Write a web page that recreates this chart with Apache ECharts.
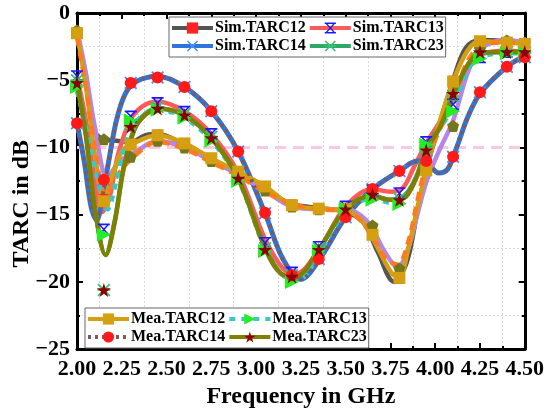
<!DOCTYPE html>
<html>
<head>
<meta charset="utf-8">
<script src="https://cdn.jsdelivr.net/npm/echarts@6/dist/echarts.min.js"></script>
<style>
  html, body { margin: 0; padding: 0; background: #fff; }
  #chart { width: 547px; height: 414px; }
</style>
</head>
<body>
<div id="chart"></div>
<script>
// Marker frequencies (GHz)
const freqPts = [2.00, 2.15, 2.30, 2.45, 2.60, 2.75, 2.90, 3.05, 3.20, 3.35, 3.50, 3.65, 3.80, 3.95, 4.10, 4.25, 4.40, 4.50];

// Marker values (dB)
const simTarc12Pts = [-1.6, -13.8, -9.8, -9.0, -9.7, -10.8, -11.8, -12.9, -14.2, -14.5, -14.7, -16.3, -19.8, -11.6, -5.0, -2.1, -2.2, -2.3];
const simTarc13Pts = [-4.7, -16.1, -7.7, -6.7, -7.35, -9.0, -11.9, -17.1, -19.3, -17.4, -14.4, -13.2, -13.4, -9.6, -6.8, -3.3, -2.9, -2.9];
const simTarc14Pts = [-8.2, -12.4, -5.2, -4.8, -5.5, -7.3, -10.3, -14.9, -19.6, -18.3, -15.2, -13.1, -11.75, -11.0, -10.7, -5.9, -4.0, -3.3];
const simTarc23Pts = [-5.0, -20.6, -8.3, -7.0, -7.5, -9.2, -12.2, -17.5, -19.5, -17.5, -14.5, -13.5, -13.8, -10.0, -6.2, -3.0, -2.9, -2.9];
const meaTarc12Pts = [-1.5, -14.0, -9.8, -9.1, -9.7, -10.8, -11.8, -12.9, -14.3, -14.55, -14.6, -16.5, -19.7, -11.7, -5.1, -2.1, -2.2, -2.3];
const meaTarc13Pts = [-5.5, -16.5, -8.0, -7.2, -7.8, -9.5, -12.5, -17.7, -20.0, -17.7, -14.6, -13.9, -14.2, -9.8, -7.3, -3.4, -3.0, -3.0];
const meaTarc14Pts = [-8.2, -12.4, -5.2, -4.8, -5.5, -7.3, -10.3, -14.85, -19.5, -18.3, -15.2, -13.1, -11.75, -11.0, -10.7, -5.9, -4.0, -3.3];
const meaTarc23Pts = [-5.2, -20.6, -8.45, -7.1, -7.6, -9.3, -12.3, -17.6, -19.6, -17.6, -14.6, -13.5, -13.9, -10.2, -6.0, -2.9, -2.9, -2.9];
const auxTarc12Pts = [-1.3, -9.4, -10.7, -9.5, -10.0, -11.0, -12.0, -13.2, -14.4, -14.6, -14.6, -15.8, -19.0, -11.6, -8.4, -2.6, -2.05, -2.2];

// Traced curves: [frequency GHz, TARC dB]
const simTarc12Curve = [[2.00,-1.3],[2.05,-5.0],[2.10,-8.8],[2.15,-9.4],[2.22,-9.5],[2.30,-9.6],[2.38,-9.1],[2.45,-9.0],[2.60,-9.8],[2.75,-10.9],[2.90,-12.0],[3.05,-13.2],[3.20,-14.2],[3.35,-14.5],[3.50,-14.8],[3.60,-15.6],[3.68,-17.8],[3.77,-20.0],[3.84,-18.6],[3.90,-14.8],[3.95,-11.7],[4.03,-8.0],[4.10,-5.0],[4.17,-2.6],[4.25,-2.0],[4.40,-2.1],[4.50,-2.3]];
const simTarc13Curve = [[2.00,-4.7],[2.05,-8.0],[2.10,-12.5],[2.14,-14.8],[2.18,-13.8],[2.23,-10.5],[2.30,-7.9],[2.37,-6.9],[2.45,-6.6],[2.60,-7.3],[2.75,-9.0],[2.90,-11.9],[3.05,-16.8],[3.15,-19.0],[3.22,-19.4],[3.35,-17.6],[3.50,-14.4],[3.65,-13.1],[3.75,-13.3],[3.82,-13.0],[3.88,-11.5],[3.95,-9.7],[4.03,-8.0],[4.10,-6.3],[4.18,-4.0],[4.25,-3.1],[4.40,-2.8],[4.50,-2.9]];
const simTarc14Curve = [[2.00,-8.2],[2.04,-11.0],[2.08,-14.5],[2.11,-15.4],[2.14,-13.8],[2.18,-10.8],[2.22,-8.0],[2.27,-6.0],[2.33,-5.1],[2.45,-4.7],[2.60,-5.5],[2.75,-7.3],[2.90,-10.3],[3.05,-14.9],[3.15,-18.3],[3.25,-19.8],[3.35,-18.4],[3.50,-15.2],[3.65,-13.1],[3.80,-11.75],[3.90,-11.0],[3.95,-11.1],[4.02,-11.9],[4.07,-11.6],[4.12,-10.0],[4.18,-7.8],[4.25,-6.0],[4.40,-4.0],[4.50,-3.2]];
const simTarc23Curve = [[2.00,-5.0],[2.05,-9.0],[2.10,-14.5],[2.16,-18.0],[2.21,-15.5],[2.26,-11.5],[2.32,-8.6],[2.38,-7.5],[2.45,-7.1],[2.60,-7.6],[2.75,-9.3],[2.90,-12.3],[3.05,-17.4],[3.14,-19.4],[3.22,-19.7],[3.35,-17.6],[3.50,-14.6],[3.65,-13.6],[3.75,-13.9],[3.82,-13.7],[3.89,-12.3],[3.95,-10.1],[4.03,-8.3],[4.10,-6.1],[4.18,-3.9],[4.25,-3.0],[4.40,-2.9],[4.50,-2.9]];
const meaTarc12Curve = [[2.00,-1.5],[2.05,-5.5],[2.10,-10.5],[2.15,-13.8],[2.20,-12.0],[2.25,-10.3],[2.30,-9.8],[2.45,-9.1],[2.60,-9.7],[2.75,-10.8],[2.90,-11.8],[3.05,-12.9],[3.20,-14.3],[3.35,-14.55],[3.50,-14.7],[3.60,-15.6],[3.68,-17.5],[3.76,-19.4],[3.80,-19.6],[3.85,-17.5],[3.90,-14.5],[3.95,-11.7],[4.02,-8.3],[4.10,-5.1],[4.18,-2.8],[4.25,-2.1],[4.40,-2.2],[4.50,-2.3]];
const meaTarc13Curve = [[2.00,-5.8],[2.05,-8.5],[2.10,-11.5],[2.17,-14.6],[2.22,-12.5],[2.28,-9.3],[2.35,-7.8],[2.45,-7.2],[2.60,-7.8],[2.75,-9.5],[2.90,-12.4],[3.05,-17.5],[3.15,-19.5],[3.24,-19.8],[3.35,-17.9],[3.50,-14.8],[3.65,-13.8],[3.75,-14.1],[3.82,-13.9],[3.89,-12.4],[3.95,-10.2],[4.03,-8.5],[4.10,-7.0],[4.18,-4.3],[4.25,-3.3],[4.40,-3.0],[4.50,-3.0]];
const meaTarc14Curve = [[2.00,-8.2],[2.04,-11.0],[2.08,-14.5],[2.11,-15.4],[2.14,-13.8],[2.18,-10.8],[2.22,-8.0],[2.27,-6.0],[2.33,-5.1],[2.45,-4.7],[2.60,-5.5],[2.75,-7.3],[2.90,-10.3],[3.05,-14.9],[3.15,-18.3],[3.25,-19.8],[3.35,-18.4],[3.50,-15.2],[3.65,-13.1],[3.80,-11.75],[3.90,-11.0],[3.95,-11.1],[4.02,-11.9],[4.07,-11.6],[4.12,-10.0],[4.18,-7.8],[4.25,-6.0],[4.40,-4.0],[4.50,-3.2]];
const meaTarc23Curve = [[2.00,-5.3],[2.05,-9.2],[2.10,-14.6],[2.16,-18.0],[2.21,-15.6],[2.26,-11.6],[2.32,-8.7],[2.38,-7.6],[2.45,-7.1],[2.60,-7.6],[2.75,-9.3],[2.90,-12.3],[3.05,-17.5],[3.14,-19.4],[3.22,-19.6],[3.35,-17.6],[3.50,-14.6],[3.65,-13.6],[3.75,-13.9],[3.82,-13.8],[3.89,-12.4],[3.95,-10.2],[4.03,-8.4],[4.10,-6.1],[4.18,-3.9],[4.25,-3.0],[4.40,-2.9],[4.50,-2.9]];
const auxTarc12CurveA = [[2.00,-1.2],[2.05,-4.5],[2.10,-8.5],[2.17,-12.2],[2.24,-11.0],[2.32,-10.4],[2.45,-9.5],[2.60,-10.0],[2.75,-11.0],[2.90,-12.0],[3.05,-13.2],[3.20,-14.4],[3.35,-14.6],[3.50,-14.6],[3.62,-15.5],[3.72,-17.8],[3.79,-18.9],[3.85,-17.5],[3.90,-15.0],[3.95,-12.6],[4.02,-10.3],[4.10,-8.0],[4.18,-4.5],[4.25,-2.7],[4.40,-2.0],[4.50,-2.2]];
const auxTarc12CurveB = [[2.00,-1.8],[2.05,-5.5],[2.10,-10.0],[2.16,-13.5],[2.22,-12.2],[2.30,-10.9],[2.45,-9.6],[2.60,-10.1],[2.75,-11.1],[2.90,-12.1],[3.05,-13.3],[3.20,-14.2],[3.35,-14.6],[3.50,-14.7],[3.62,-16.0],[3.72,-18.2],[3.79,-18.7],[3.85,-17.0],[3.90,-14.0],[3.95,-11.3],[4.02,-8.8],[4.10,-6.8],[4.18,-3.6],[4.28,-2.3],[4.40,-2.2],[4.50,-2.3]];

// -10 dB reference level
const refLevel = -10;

const serifFont = '"Liberation Serif", "Times New Roman", serif';

const starPath = 'path://M5,0 L6.18,3.6 L10,3.6 L6.9,5.9 L8.1,9.5 L5,7.3 L1.9,9.5 L3.1,5.9 L0,3.6 L3.82,3.6 Z';
const pentagonPath = 'path://M5,0 L10,3.8 L8.1,10 L1.9,10 L0,3.8 Z';
const barXPath = 'path://M0,0 L10,0 L10,1.4 L0,1.4 Z M0,8.6 L10,8.6 L10,10 L0,10 Z M1,1.4 L2.6,1.4 L5,4 L7.4,1.4 L9,1.4 L5.8,5 L9,8.6 L7.4,8.6 L5,6 L2.6,8.6 L1,8.6 L4.2,5 Z';
const asteriskPath = 'path://M0,4.3 L10,4.3 L10,5.7 L0,5.7 Z M1,0 L5,4 L9,0 L10,1 L6,5 L10,9 L9,10 L5,6 L1,10 L0,9 L4,5 L0,1 Z';
const crossPath = 'path://M1,0 L5,4 L9,0 L10,1 L6,5 L10,9 L9,10 L5,6 L1,10 L0,9 L4,5 L0,1 Z';

const zip = (xs, ys) => xs.map((x, i) => [x, ys[i]]);

function curve(name, data, color, width, type, symbol, markColor, extra) {
  return Object.assign({
    name: name,
    type: 'line',
    data: data,
    smooth: 0.35,
    showSymbol: false,
    symbol: symbol || 'none',
    symbolSize: 11,
    lineStyle: { color: color, width: width, type: type || 'solid' },
    itemStyle: { color: markColor || color },
    emphasis: { disabled: true },
    z: 2
  }, extra || {});
}

function marks(name, ys, symbol, size, color, extra) {
  return Object.assign({
    name: name,
    type: 'scatter',
    data: zip(freqPts, ys),
    symbol: symbol,
    symbolSize: size,
    itemStyle: { color: color, opacity: 1 },
    clip: false,
    emphasis: { disabled: true },
    z: 3
  }, extra || {});
}

const axisLineStyle = { color: '#000', width: 3 };
const tickStyle = { color: '#000', width: 2 };
const labelStyle = { fontFamily: serifFont, fontWeight: 'bold', fontSize: 22, color: '#000' };
const minus = v => (v < 0 ? '\u2212' + Math.abs(v) : String(v));

const legendCommon = {
  orient: 'horizontal',
  itemWidth: 41,
  itemHeight: 14,
  itemGap: 2,
  borderColor: '#666',
  borderWidth: 1,
  backgroundColor: '#fff',
  borderRadius: 0,
  padding: [3, 2, 3, 1],
  selectedMode: false,
  lineStyle: { width: 4 },
  textStyle: { fontFamily: serifFont, fontWeight: 'bold', fontSize: 16, color: '#000', padding: [0, 0, 0, -3] }
};

const option = {
  animation: false,
  backgroundColor: '#fff',
  grid: { left: 77, right: 20, top: 13, bottom: 61, containLabel: false },
  graphic: [{
    type: 'text',
    left: 10,
    top: 140,
    rotation: Math.PI / 2,
    style: {
      text: 'TARC in dB',
      font: 'bold 24px ' + serifFont,
      fill: '#000'
    }
  }],
  legend: [
    Object.assign({}, legendCommon, {
      left: 169, top: 17, width: 300,
      data: ['Sim.TARC12', 'Sim.TARC13', 'Sim.TARC14', 'Sim.TARC23']
    }),
    Object.assign({}, legendCommon, {
      left: 85, top: 308, width: 300,
      data: ['Mea.TARC12', 'Mea.TARC13', 'Mea.TARC14', 'Mea.TARC23']
    })
  ],
  xAxis: [
    {
      type: 'value', min: 2, max: 4.5, interval: 0.25, position: 'bottom',
      name: 'Frequency in GHz', nameLocation: 'middle', nameGap: 34,
      nameTextStyle: { fontFamily: serifFont, fontWeight: 'bold', fontSize: 24, color: '#000' },
      axisLine: { show: true, onZero: false, lineStyle: axisLineStyle },
      axisTick: { show: true, inside: true, length: 6, lineStyle: tickStyle },
      minorTick: { show: true, splitNumber: 2, length: 3, lineStyle: tickStyle },
      axisLabel: Object.assign({ margin: 9, formatter: v => v.toFixed(2) }, labelStyle),
      splitLine: { show: false },
      minorSplitLine: { show: true, lineStyle: { color: '#d9d9d9', width: 1, type: [2, 2] } }
    },
    {
      type: 'value', min: 2, max: 4.5, interval: 0.25, position: 'top',
      axisLine: { show: true, onZero: false, lineStyle: axisLineStyle },
      axisTick: { show: true, inside: true, length: 6, lineStyle: tickStyle },
      minorTick: { show: true, splitNumber: 2, length: 3, lineStyle: tickStyle },
      axisLabel: { show: false },
      splitLine: { show: false }
    }
  ],
  yAxis: [
    {
      type: 'value', min: -25, max: 0, interval: 5, position: 'left',
      axisLine: { show: true, onZero: false, lineStyle: axisLineStyle },
      axisTick: { show: true, inside: true, length: 6, lineStyle: tickStyle },
      minorTick: { show: true, splitNumber: 2, length: 3, lineStyle: tickStyle },
      axisLabel: Object.assign({ margin: 7, formatter: minus }, labelStyle),
      splitLine: { show: false },
      minorSplitLine: { show: true, lineStyle: { color: '#d9d9d9', width: 1, type: [2, 2] } }
    },
    {
      type: 'value', min: -25, max: 0, interval: 5, position: 'right',
      axisLine: { show: true, onZero: false, lineStyle: axisLineStyle },
      axisTick: { show: true, inside: true, length: 6, lineStyle: tickStyle },
      minorTick: { show: true, splitNumber: 2, length: 3, lineStyle: tickStyle },
      axisLabel: { show: false },
      splitLine: { show: false }
    }
  ],
  series: [
    // -10 dB reference
    {
      name: 'ref', type: 'line', data: [[2, refLevel], [4.5, refLevel]],
      symbol: 'none', lineStyle: { color: '#fbc8e4', width: 3, type: [11, 7] }, z: 1,
      emphasis: { disabled: true }
    },
    // simulated traces
    curve('Sim.TARC12', simTarc12Curve, '#555555', 4.5, 'solid', 'rect', '#ff2222'),
    curve('Sim.TARC13', simTarc13Curve, '#ff5a5a', 4.5, 'solid', barXPath, '#1a1aff'),
    curve('Sim.TARC14', simTarc14Curve, '#2f74dc', 5, 'solid', crossPath, '#4a8ff0'),
    curve('Sim.TARC23', simTarc23Curve, '#2fa866', 4.5, 'solid', asteriskPath, '#3cc070'),
    curve('TARC12 trace A', auxTarc12CurveA, '#b585e8', 4.5, 'solid'),
    // measured traces
    curve('Mea.TARC12', meaTarc12Curve, '#d4a012', 4.5, 'solid', 'rect', '#d4a012'),
    curve('TARC12 trace B', auxTarc12CurveB, '#ff7a1a', 4.5, [9, 6]),
    curve('Mea.TARC13', meaTarc13Curve, '#38c8c8', 4.5, [6, 6], 'triangle', '#22ee22', { symbolRotate: -90 }),
    curve('Mea.TARC14', meaTarc14Curve, '#7f5a55', 4, [3, 4], 'circle', '#ff1a1a'),
    curve('Mea.TARC23', meaTarc23Curve, '#7f7f00', 4.5, 'solid', starPath, '#8b0000'),
    // markers
    marks('Sim.TARC12', simTarc12Pts, 'rect', 9, '#ff2222'),
    marks('Sim.TARC14', simTarc14Pts, crossPath, 13, '#4a8ff0'),
    marks('Sim.TARC13', simTarc13Pts, barXPath, 12, '#1a1aff'),
    marks('Sim.TARC23', simTarc23Pts, asteriskPath, 13, '#3cc070'),
    marks('TARC12 trace A', auxTarc12Pts, pentagonPath, 12, '#76761a'),
    marks('Mea.TARC12', meaTarc12Pts, 'rect', 12, '#d4a012'),
    marks('Mea.TARC13', meaTarc13Pts, 'triangle', 14, '#22ee22', { symbolRotate: -90 }),
    marks('Mea.TARC14', meaTarc14Pts, 'circle', 12, '#ff1a1a'),
    marks('Mea.TARC23', meaTarc23Pts, starPath, 14, '#8b0000')
  ]
};

const chart = echarts.init(document.getElementById('chart'), null, { renderer: 'canvas' });
chart.setOption(option);
</script>
</body>
</html>
